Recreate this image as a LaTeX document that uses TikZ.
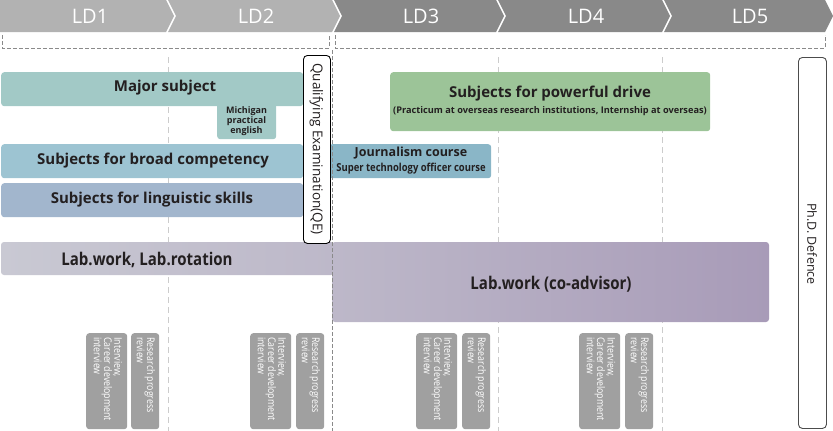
\documentclass[tikz,border=0pt]{standalone}
\usepackage{fontspec}
\setmainfont{Open Sans}
\newfontfamily\condfont{Open Sans}[FakeStretch=0.86]
\newfontfamily\narrowfont{Open Sans}[FakeStretch=0.84]
\definecolor{ldlight}{HTML}{B2B2B2}
\definecolor{lddark}{HTML}{898989}
\definecolor{cMajor}{HTML}{A2C9C6}
\definecolor{cBroad}{HTML}{9DC4D2}
\definecolor{cLing}{HTML}{A2B6CD}
\definecolor{cJour}{HTML}{8AB6C7}
\definecolor{cDrive}{HTML}{9CC498}
\definecolor{cGrayBox}{HTML}{A0A0A0}
\definecolor{cText}{HTML}{231F20}
\definecolor{cGrid}{HTML}{CCCCCC}
\definecolor{cQE}{HTML}{8A8A8A}
\definecolor{labA}{HTML}{C9C9D3}
\definecolor{labB}{HTML}{BDB8C9}
\definecolor{labC}{HTML}{A89BB8}
\begin{document}
\begin{tikzpicture}[x=1pt,y=-1pt,
  ldtext/.style={text=white,font=\fontsize{20}{20}\selectfont,inner sep=0},
  bracket/.style={draw=cQE,dash pattern=on 4pt off 2pt,line width=0.8pt},
  gridline/.style={draw=cGrid,dash pattern=on 6pt off 4pt,line width=0.9pt},
  qeline/.style={draw=cQE,dash pattern=on 4pt off 2pt,line width=0.9pt},
  bar/.style={rounded corners=3pt,inner sep=0,anchor=north west,draw=none},
  lbl/.style={text=cText,inner sep=0,font=\bfseries\fontsize{15}{16}\selectfont},
  condlbl/.style={text=cText,inner sep=0,font=\condfont\bfseries\fontsize{17.5}{18}\selectfont},
  milestone/.style={rounded corners=4pt,fill=white,inner sep=0,anchor=north west,line width=0.9pt},
  vtext/.style={rotate=-90,inner sep=0,text=cText,font=\fontsize{13.5}{14}\selectfont},
  graybox/.style={rounded corners=3pt,fill=cGrayBox,inner sep=0,anchor=north west,minimum height=96},
  graytext/.style={rotate=-90,anchor=north west,inner sep=0,text=white,align=left,
    font=\narrowfont\fontsize{10.5}{10.3}\selectfont}
]
\useasboundingbox (0,0) rectangle (833,431);

% header chevrons
\fill[ldlight] (0,0) -- (166,0) -- (174,16) -- (166,32) -- (0,32) -- cycle;
\fill[ldlight] (168,0) -- (332,0) -- (340,16) -- (332,32) -- (168,32) -- (176,16) -- cycle;
\fill[lddark] (334,0) -- (496,0) -- (504,16) -- (496,32) -- (334,32) -- (342,16) -- cycle;
\fill[lddark] (498,0) -- (662,0) -- (670,16) -- (662,32) -- (498,32) -- (506,16) -- cycle;
\fill[lddark] (664,0) -- (825,0) -- (833,16) -- (825,32) -- (664,32) -- (672,16) -- cycle;
\node[ldtext] (ld1) at (90,16.5) {LD1};
\node[ldtext] (ld2) at (256,16.5) {LD2};
\node[ldtext] (ld3) at (421,16.5) {LD3};
\node[ldtext] (ld4) at (586,16.5) {LD4};
\node[ldtext] (ld5) at (750,16.5) {LD5};

% brackets
\draw[bracket] (2,35) -- (2,48) -- (329,48) -- (329,35);
\draw[bracket] (335,35) -- (335,48) -- (825,48) -- (825,35);

% grid lines
\draw[gridline] (168,57) -- (168,431);
\draw[gridline] (498,57) -- (498,431);
\draw[gridline] (662,57) -- (662,431);

% bars
\node[bar,fill=cMajor,minimum width=59,minimum height=39] (mich) at (217,100) {};
\node[bar,fill=cMajor,minimum width=302,minimum height=34] (major) at (1,72) {};
\node[lbl] (majorT) at (165,88) {Major subject};
\node[inner sep=0,text=cText,align=center,font=\bfseries\fontsize{9}{10}\selectfont] (michT) at (246.5,121) {Michigan\\practical\\english};

\node[bar,fill=cBroad,minimum width=302,minimum height=34] (broad) at (1,144) {};
\node[lbl] (broadT) at (153,161) {Subjects for broad competency};

\node[bar,fill=cLing,minimum width=302,minimum height=34] (ling) at (1,183) {};
\node[lbl] (lingT) at (152,200) {Subjects for linguistic skills};

\node[bar,fill=cJour,minimum width=162,minimum height=34] (jour) at (329,144) {};
\node[lbl,font=\bfseries\fontsize{12.5}{13}\selectfont] (jourT) at (411,153) {Journalism course};
\node[condlbl,font=\condfont\bfseries\fontsize{11}{12}\selectfont] (superT) at (411,168.5) {Super technology officer course};

\node[bar,fill=cDrive,minimum width=320,minimum height=59] (drive) at (390,72) {};
\node[lbl,font=\bfseries\fontsize{15}{16}\selectfont] (driveT) at (550,94) {Subjects for powerful drive};
\node[lbl,font=\bfseries\fontsize{9.2}{10}\selectfont] (driveS) at (550,111) {(Practicum at overseas research institutions, Internship at overseas)};

% lab work
\shade[left color=labA,right color=labB,rounded corners=3pt] (1,242) rectangle (334,275);
\shade[left color=labB,right color=labC,rounded corners=3pt] (332,242) rectangle (769,322);
\node[condlbl] (labT) at (147,260) {Lab.work, Lab.rotation};
\node[condlbl] (coT) at (551,284) {Lab.work (co-advisor)};

% QE line (on top)
\draw[qeline] (332,50) -- (332,431);

% milestones
\node[milestone,draw=black,minimum width=27,minimum height=188] (qe) at (303,55) {};
\node[vtext] (qeT) at (316.5,149) {Qualifying Examination(QE)};
\node[milestone,draw=black!70,minimum width=28,minimum height=371] (phd) at (798,57) {};
\node[vtext,font=\fontsize{12.5}{13}\selectfont] (phdT) at (812,244) {Ph.D. Defence};

% bottom gray boxes
\foreach \i/\xa/\xb in {1/86/131, 2/250/296, 3/416/462, 4/579/625}{
  \node[graybox,minimum width=41] (iv\i) at (\xa,333) {};
  \node[graybox,minimum width=28] (rp\i) at (\xb,333) {};
  \node[graytext] (ivT\i) at ([xshift=-5,yshift=-4]iv\i.north east) {Interview,\\Career development\\interview};
  \node[graytext] (rpT\i) at ([xshift=-4,yshift=-4]rp\i.north east) {Research progress\\review};
}
\end{tikzpicture}
\end{document}
